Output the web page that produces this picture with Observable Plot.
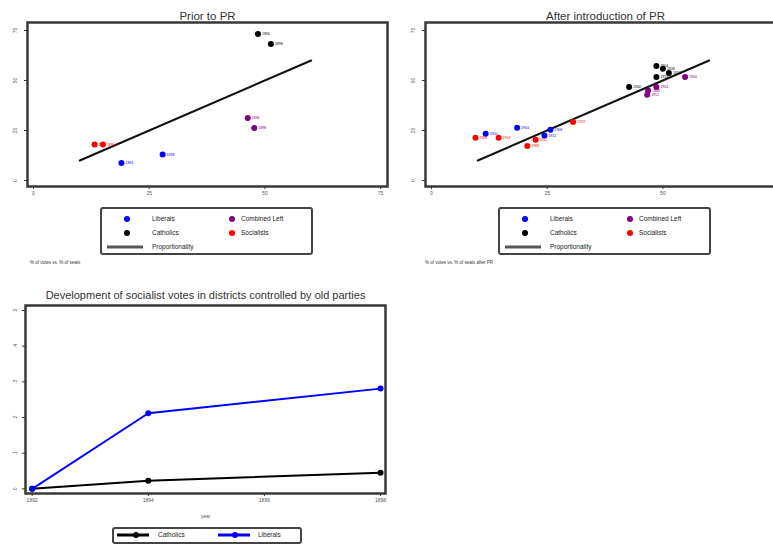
<!DOCTYPE html>
<html>
<head>
<meta charset="utf-8">
<script src="https://cdn.jsdelivr.net/npm/d3@7"></script>
<script src="https://cdn.jsdelivr.net/npm/@observablehq/plot@0.6"></script>
<style>
  body { margin: 0; background: #fff; width: 773px; height: 544px; overflow: hidden; position: relative;
         font-family: "Liberation Sans", Arial, sans-serif; }
  .panel { position: absolute; }
  .legend { position: absolute; border: 2.5px solid #444; border-radius: 3px; box-sizing: border-box; background: #fff; }
  .legend .item { position: absolute; font-size: 6.5px; color: #222; line-height: 8px; transform: translateY(-50%); white-space: nowrap; }
  .legend .dot { position: absolute; width: 6px; height: 6px; border-radius: 50%; transform: translate(-50%, -50%); }
  .legend .bar { position: absolute; height: 3px; transform: translateY(-50%); }
  .note { position: absolute; font-size: 4.5px; color: #333; white-space: nowrap; }
</style>
</head>
<body>
<script>
// Party colours
const parties = ["Liberals", "Catholics", "Combined Left", "Socialists"];
const partyColors = ["#0000ff", "#000000", "#800080", "#ff0000"];

// Prior to PR: % of votes (x) vs. % of seats (y)
const priorParty = ["Catholics", "Catholics", "Combined Left", "Combined Left", "Socialists", "Socialists", "Liberals", "Liberals"];
const priorX = [48.5, 51.3, 46.3, 47.7, 13.2, 15.0, 19.0, 27.9];
const priorY = [73.3, 68.2, 31.3, 26.3, 18.0, 18.0, 8.8, 13.0];
const priorYear = ["1894", "1898", "1894", "1898", "1894", "1898", "1894", "1898"];

// After introduction of PR
const afterParty = ["Liberals", "Liberals", "Liberals", "Liberals",
  "Socialists", "Socialists", "Socialists", "Socialists", "Socialists",
  "Catholics", "Catholics", "Catholics", "Catholics", "Catholics",
  "Combined Left", "Combined Left", "Combined Left", "Combined Left"];
const afterX = [11.7, 18.5, 25.7, 24.4, 9.5, 14.5, 20.7, 22.5, 30.6, 42.7, 48.6, 50.0, 51.3, 48.6, 54.8, 48.6, 46.8, 46.6];
const afterY = [23.4, 26.4, 25.4, 22.5, 21.4, 21.4, 17.2, 20.4, 29.2, 46.7, 57.2, 55.9, 53.7, 51.7, 51.7, 46.7, 45.0, 42.9];
const afterYear = ["1900", "1904", "1908", "1912", "1900", "1904", "1908", "1912", "1919",
  "1900", "1904", "1908", "1912", "1919", "1900", "1904", "1908", "1912"];

// Proportionality line (seat share = vote share)
const propRange = [10, 60];
const scatterTicks = [0, 25, 50, 75];
const scatterTicksCut = [0, 25, 50];

// Development of socialist votes
const devYears = [1892, 1894, 1898];
const devCatholics = [0, 0.023, 0.045];
const devLiberals = [0, 0.212, 0.281];
const devXTicks = [1892, 1894, 1896, 1898];
const devYTicks = [0, 0.1, 0.2, 0.3, 0.4, 0.5];
const devYLabels = ["0", ".1", ".2", ".3", ".4", ".5"];

const colorScale = {domain: parties, range: partyColors};
const font = "Liberation Sans, Arial, sans-serif";

function table(party, x, y, year) {
  return party.map((p, i) => ({party: p, x: x[i], y: y[i], year: year[i]}));
}

function scatterPanel(title, rows, xTicks) {
  const prop = propRange.map(v => ({v}));
  return Plot.plot({
    width: 400, height: 205,
    marginLeft: 27, marginRight: 13, marginTop: 22, marginBottom: 19,
    style: {fontFamily: font, background: "transparent", overflow: "visible"},
    x: {domain: [-1.3, 76.5]},
    y: {domain: [-3, 79]},
    color: colorScale,
    marks: [
      Plot.axisX({ticks: xTicks, tickSize: 3, tickPadding: 2, fontSize: 5, label: null, stroke: "#333", color: "#555"}),
      Plot.axisY({ticks: scatterTicks, tickSize: 3, tickFormat: () => "", label: null, stroke: "#333"}),
      Plot.text(scatterTicks, {y: d => d, text: d => String(d), frameAnchor: "left", dx: -12, rotate: -90,
        textAnchor: "middle", fontSize: 5, fill: "#555"}),
      Plot.line(prop, {x: "v", y: "v", stroke: "#111", strokeWidth: 2}),
      Plot.dot(rows, {x: "x", y: "y", fill: "party", r: 3}),
      Plot.text(rows, {x: "x", y: "y", text: "year", fill: "party", dx: 4, textAnchor: "start", fontSize: 3.5}),
      Plot.frame({stroke: "#383838", strokeWidth: 2.5}),
      Plot.text([title], {frameAnchor: "top", lineAnchor: "bottom", dy: -3, fontSize: 11.5, fill: "#333"})
    ]
  });
}

function place(el, left, top) {
  el.classList.add("panel");
  el.style.left = left + "px";
  el.style.top = top + "px";
  document.body.appendChild(el);
}

place(scatterPanel("Prior to PR", table(priorParty, priorX, priorY, priorYear), scatterTicks), 0, 0);
place(scatterPanel("After introduction of PR", table(afterParty, afterX, afterY, afterYear), scatterTicksCut), 398, 0);

// Development panel
const dev = [];
devYears.forEach((yr, i) => {
  dev.push({series: "Catholics", year: yr, v: devCatholics[i]});
  dev.push({series: "Liberals", year: yr, v: devLiberals[i]});
});
const devColor = {domain: ["Catholics", "Liberals"], range: ["#000000", "#0000ff"]};
const devPlot = Plot.plot({
  width: 400, height: 243,
  marginLeft: 25, marginRight: 15, marginTop: 25, marginBottom: 30,
  style: {fontFamily: font, background: "transparent", overflow: "visible"},
  x: {domain: [1891.885, 1898.086]},
  y: {domain: [-0.013, 0.514]},
  color: devColor,
  marks: [
    Plot.axisX({ticks: devXTicks, tickSize: 3, tickPadding: 2, fontSize: 5, tickFormat: d => String(d), label: null, stroke: "#333", color: "#555"}),
    Plot.axisY({ticks: devYTicks, tickSize: 3, tickFormat: () => "", label: null, stroke: "#333"}),
    Plot.text(devYTicks, {y: d => d, text: (d, i) => devYLabels[i], frameAnchor: "left", dx: -10, rotate: -90,
      textAnchor: "middle", fontSize: 5, fill: "#555"}),
    Plot.line(dev, {x: "year", y: "v", stroke: "series", strokeWidth: 2}),
    Plot.dot(dev, {x: "year", y: "v", fill: "series", r: 3}),
    Plot.frame({stroke: "#383838", strokeWidth: 2.5}),
    Plot.text(["year"], {frameAnchor: "bottom", dy: 24, fontSize: 5, fill: "#555"}),
    Plot.text(["Development of socialist votes in districts controlled by old parties"],
      {frameAnchor: "top", lineAnchor: "bottom", dy: -7, fontSize: 11, fill: "#333"})
  ]
});
place(devPlot, 0, 280);

// Legends
function scatterLegend(left) {
  const box = document.createElement("div");
  box.className = "legend";
  Object.assign(box.style, {left: left + "px", top: "207px", width: "213px", height: "48px"});
  const entries = [
    {kind: "dot", color: partyColors[0], label: parties[0], mx: 25, tx: 50, y: 10},
    {kind: "dot", color: partyColors[2], label: parties[2], mx: 130, tx: 139, y: 10},
    {kind: "dot", color: partyColors[1], label: parties[1], mx: 25, tx: 50, y: 24},
    {kind: "dot", color: partyColors[3], label: parties[3], mx: 130, tx: 139, y: 24},
    {kind: "bar", color: "#555", label: "Proportionality", mx: 5, tx: 50, y: 38}
  ];
  for (const e of entries) {
    const m = document.createElement("div");
    if (e.kind === "dot") {
      m.className = "dot";
      Object.assign(m.style, {left: e.mx + "px", top: e.y + "px", background: e.color});
    } else {
      m.className = "bar";
      Object.assign(m.style, {left: e.mx + "px", top: e.y + "px", width: "36px", background: e.color});
    }
    box.appendChild(m);
    const t = document.createElement("div");
    t.className = "item";
    t.textContent = e.label;
    Object.assign(t.style, {left: e.tx + "px", top: e.y + "px"});
    box.appendChild(t);
  }
  document.body.appendChild(box);
}
scatterLegend(100);
scatterLegend(498);

// Notes under the scatter panels
function note(text, left) {
  const n = document.createElement("div");
  n.className = "note";
  n.textContent = text;
  Object.assign(n.style, {left: left + "px", top: "260px"});
  document.body.appendChild(n);
}
note("% of votes vs. % of seats", 30);
note("% of votes vs. % of seats after PR", 425);

// Legend for the development panel
(function () {
  const box = document.createElement("div");
  box.className = "legend";
  Object.assign(box.style, {left: "112px", top: "527px", width: "190px", height: "17px"});
  const entries = [
    {color: "#000", label: "Catholics", lx: 3, mx: 22, tx: 44},
    {color: "#0000ff", label: "Liberals", lx: 104, mx: 121, tx: 144}
  ];
  for (const e of entries) {
    const bar = document.createElement("div");
    bar.className = "bar";
    Object.assign(bar.style, {left: e.lx + "px", top: "6px", width: "32px", background: e.color});
    box.appendChild(bar);
    const d = document.createElement("div");
    d.className = "dot";
    Object.assign(d.style, {left: e.mx + "px", top: "6px", background: e.color});
    box.appendChild(d);
    const t = document.createElement("div");
    t.className = "item";
    t.textContent = e.label;
    Object.assign(t.style, {left: e.tx + "px", top: "6px"});
    box.appendChild(t);
  }
  document.body.appendChild(box);
})();
</script>
</body>
</html>
